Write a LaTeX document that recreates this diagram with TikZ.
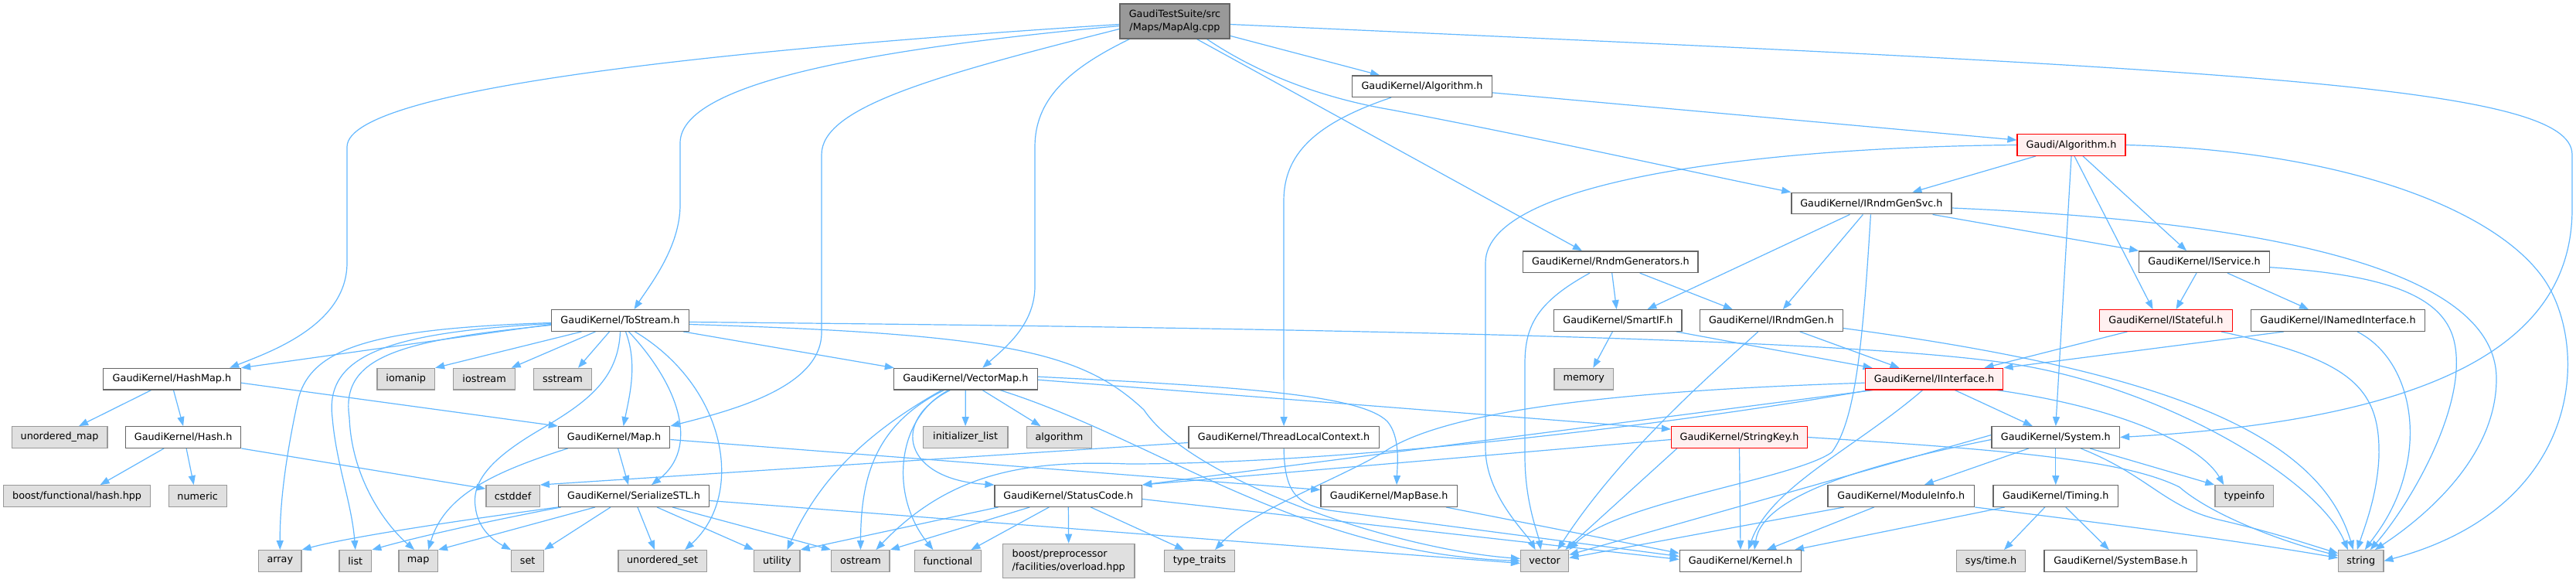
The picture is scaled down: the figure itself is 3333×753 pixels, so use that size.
\documentclass[tikz,border=0pt]{standalone}
\usepackage{fontspec}
\setmainfont{DejaVu Sans}
\usetikzlibrary{arrows.meta}
\pgfdeclarelayer{bg}
\pgfsetlayers{bg,main}
\definecolor{edgec}{HTML}{63B8FF}
\definecolor{nodeb}{HTML}{666666}
\definecolor{leafb}{HTML}{999999}
\definecolor{leaff}{HTML}{E0E0E0}
\definecolor{rootf}{HTML}{999999}
\definecolor{redf}{HTML}{FFF0F0}
\definecolor{redb}{HTML}{FF0000}
\begin{document}
\begin{tikzpicture}[x=1pt,y=-1pt,
  box/.style={draw, rectangle, line width=1.3pt, inner sep=0pt, minimum height=27.6pt, font=\fontsize{12.8}{16.7}\selectfont, text=black},
  gk/.style={box, draw=nodeb, fill=white},
  leaf/.style={box, draw=leafb, fill=leaff},
  redn/.style={box, draw=redb, fill=redf},
  rootn/.style={box, draw=nodeb, fill=rootf, minimum height=45pt, align=center},
  edg/.style={draw=edgec, line width=1.2pt, -{Triangle[length=12pt,width=9pt]}},
]
\useasboundingbox (0,0) rectangle (3333,753);
% ---------- nodes ----------
\node[rootn, minimum width=142pt] (mapalg) at (1520,27.5) {GaudiTestSuite/src\\/Maps/MapAlg.cpp};
\node[gk, minimum width=181pt] (gkalg) at (1840,111.7) {GaudiKernel/Algorithm.h};
\node[redn, minimum width=140pt] (galg) at (2680,187.5) {Gaudi/Algorithm.h};
\node[gk, minimum width=207pt] (rsvc) at (2421.4,263) {GaudiKernel/IRndmGenSvc.h};
\node[gk, minimum width=226.4pt] (rgens) at (2083.9,338.7) {GaudiKernel/RndmGenerators.h};
\node[gk, minimum width=168.5pt] (iserv) at (2852,338.7) {GaudiKernel/IService.h};
\node[gk, minimum width=178pt] (tostr) at (802.5,414.5) {GaudiKernel/ToStream.h};
\node[gk, minimum width=165.4pt] (smart) at (2093.4,414.5) {GaudiKernel/SmartIF.h};
\node[gk, minimum width=185pt] (rgen) at (2291.8,414.5) {GaudiKernel/IRndmGen.h};
\node[redn, minimum width=171.5pt] (istate) at (2802.5,414.5) {GaudiKernel/IStateful.h};
\node[gk, minimum width=225.5pt] (inamed) at (3025,414.5) {GaudiKernel/INamedInterface.h};
\node[gk, minimum width=178pt] (hmap) at (222.5,490.2) {GaudiKernel/HashMap.h};
\node[leaf, minimum width=74.6pt] (iomanip) at (525.2,490.2) {iomanip};
\node[leaf, minimum width=79.6pt] (iostr) at (626.6,490.2) {iostream};
\node[leaf, minimum width=74.6pt] (sstr) at (728,490.2) {sstream};
\node[gk, minimum width=185.7pt] (vmap) at (1249.3,490.2) {GaudiKernel/VectorMap.h};
\node[leaf, minimum width=76.4pt] (memory) at (2049.3,490.2) {memory};
\node[redn, minimum width=178.6pt] (iint) at (2502.5,490.2) {GaudiKernel/IInterface.h};
\node[leaf, minimum width=123.6pt] (umap) at (77.1,565.5) {unordered\_map};
\node[gk, minimum width=149.3pt] (hash) at (237.1,565.5) {GaudiKernel/Hash.h};
\node[gk, minimum width=144.3pt] (gmap) at (794.6,565.5) {GaudiKernel/Map.h};
\node[leaf, minimum width=109.6pt] (ilist) at (1249.1,565.5) {initializer\_list};
\node[leaf, minimum width=84.3pt] (algo) at (1370.4,565.5) {algorithm};
\node[gk, minimum width=246.4pt] (tlc) at (1661.1,565.5) {GaudiKernel/ThreadLocalContext.h};
\node[redn, minimum width=176pt] (skey) at (2250.5,565.5) {GaudiKernel/StringKey.h};
\node[gk, minimum width=165.4pt] (sys) at (2659.8,565.5) {GaudiKernel/System.h};
\node[leaf, minimum width=190pt] (bhash) at (99.6,641.5) {boost/functional/hash.hpp};
\node[leaf, minimum width=75pt] (numeric) at (255.7,641.5) {numeric};
\node[leaf, minimum width=69.3pt] (cstddef) at (663.6,641.5) {cstddef};
\node[gk, minimum width=195pt] (ser) at (820,641.5) {GaudiKernel/SerializeSTL.h};
\node[gk, minimum width=190.4pt] (sc) at (1382.3,641.5) {GaudiKernel/StatusCode.h};
\node[gk, minimum width=176.4pt] (mbase) at (1797.1,641.5) {GaudiKernel/MapBase.h};
\node[gk, minimum width=189.6pt] (minfo) at (2459.8,641.5) {GaudiKernel/ModuleInfo.h};
\node[gk, minimum width=161.8pt] (timing) at (2659.8,641.5) {GaudiKernel/Timing.h};
\node[leaf, minimum width=75.7pt] (typeinfo) at (2903.8,641.5) {typeinfo};
\node[leaf, minimum width=55.4pt] (array) at (362.3,725.5) {array};
\node[leaf, minimum width=41.8pt] (list) at (459.8,725.5) {list};
\node[leaf, minimum width=50.4pt] (smap) at (541.2,725.5) {map};
\node[leaf, minimum width=41.8pt] (set) at (682.7,725.5) {set};
\node[leaf, minimum width=114.3pt] (uset) at (857.1,725.5) {unordered\_set};
\node[leaf, minimum width=59.3pt] (utility) at (1005.4,725.5) {utility};
\node[leaf, minimum width=75.4pt] (ostr) at (1113.4,725.5) {ostream};
\node[leaf, minimum width=86.4pt] (func) at (1226.4,725.5) {functional};
\node[leaf, minimum width=170.4pt, minimum height=44.4pt, align=left] (bpp) at (1382.7,725.5) {boost/preprocessor\\/facilities/overload.hpp};
\node[leaf, minimum width=91.1pt] (ttraits) at (1552,725.5) {type\_traits};
\node[leaf, minimum width=62.1pt] (vector) at (1998.6,725.5) {vector};
\node[gk, minimum width=157.5pt] (kernel) at (2252,725.5) {GaudiKernel/Kernel.h};
\node[leaf, minimum width=89.3pt] (systime) at (2576,725.5) {sys/time.h};
\node[gk, minimum width=197.6pt] (sysbase) at (2743.8,725.5) {GaudiKernel/SystemBase.h};
\node[leaf, minimum width=58.1pt] (string) at (3054.8,725.5) {string};
% ---------- edges ----------
\begin{pgfonlayer}{bg}
\fill[white] (0,0) rectangle (3333,753);
% MapAlg.cpp
\draw[edg] ([yshift=-4pt]mapalg.west) .. controls (1000,60) and (449,110) .. (449,190) -- (449,340) .. controls (449,420) and (350,455) .. ([xshift=-15pt]hmap.north east);
\draw[edg] ([yshift=-6pt]mapalg.west) .. controls (1050,70) and (880,120) .. (880,185) -- (880,265) .. controls (880,320) and (840,370) .. ([xshift=18pt]tostr.north);
\draw[edg] ([yshift=-10pt]mapalg.west) .. controls (1200,100) and (1063,140) .. (1063,200) -- (1063,430) .. controls (1063,500) and (950,530) .. (gmap.north east);
\draw[edg] ([xshift=13pt]mapalg.south west) .. controls (1380,90) and (1339,130) .. (1339,190) -- (1339,370) .. controls (1339,420) and (1300,450) .. ([xshift=22pt]vmap.north);
\draw[edg] ([yshift=-4pt]mapalg.east) .. controls (2900,90) and (3328,110) .. (3328,200) -- (3328,270) .. controls (3328,420) and (3200,540) .. (sys.east);
\draw[edg] (mapalg) -- (gkalg);
\draw[edg] ([xshift=-30pt]mapalg.south east) .. controls (1620,90) and (1700,125) .. (1800,142) .. controls (2000,180) and (2200,225) .. (rsvc.north west);
\draw[edg] ([xshift=-43pt]mapalg.south east) -- ([xshift=-37pt]rgens.north);
% GaudiKernel/Algorithm.h
\draw[edg] (gkalg) -- (galg);
\draw[edg] ([xshift=-40pt]gkalg.south) .. controls (1700,160) and (1661,200) .. (1661,260) -- (tlc.north);
% Gaudi/Algorithm.h
\draw[edg] ([xshift=-46pt]galg.south) -- ([xshift=53pt]rsvc.north);
\draw[edg] (galg.west) .. controls (2300,190) and (1922,230) .. (1922,340) -- (1922,580) .. controls (1922,640) and (1975,690) .. ([xshift=-12pt]vector.north);
\draw[edg] (galg.east) .. controls (3050,195) and (3250,280) .. (3300,375) .. controls (3350,470) and (3330,660) .. (string.east);
\draw[edg] (galg.south) -- (sys.north);
\draw[edg] ([xshift=4pt]galg.south) -- ([xshift=-17pt]istate.north);
\draw[edg] ([xshift=15pt]galg.south) -- ([xshift=-23pt]iserv.north);
% IRndmGenSvc.h
\draw[edg] ([xshift=-28pt]rsvc.south) -- ([xshift=38pt]smart.north);
\draw[edg] ([xshift=-11pt]rsvc.south) -- ([xshift=15pt]rgen.north);
\draw[edg] ([xshift=-1pt]rsvc.south) .. controls (2410,450) and (2400,545) .. (2370,585) .. controls (2320,620) and (2090,650) .. (vector.north east);
\draw[edg] ([yshift=-6pt]rsvc.east) .. controls (2900,285) and (3230,340) .. (3230,490) .. controls (3230,600) and (3120,680) .. ([xshift=18pt]string.north);
\draw[edg] ([xshift=-25pt]rsvc.south east) -- (iserv.north west);
% RndmGenerators.h
\draw[edg] ([xshift=-27pt]rgens.south) .. controls (1990,390) and (1973,420) .. (1973,470) -- (1973,590) .. controls (1973,650) and (1990,690) .. ([xshift=-5pt]vector.north);
\draw[edg] (rgens) -- (smart);
\draw[edg] ([xshift=-76pt]rgens.south east) -- ([xshift=-50pt]rgen.north);
% IService.h
\draw[edg] ([xshift=-10pt]iserv.south) -- ([xshift=13pt]istate.north);
\draw[edg] ([xshift=30pt]iserv.south) -- ([xshift=-38pt]inamed.north);
\draw[edg] ([yshift=-7pt]iserv.east) .. controls (3080,355) and (3160,380) .. (3175,440) .. controls (3195,520) and (3120,650) .. ([xshift=12pt]string.north);
% ToStream.h
\draw[edg] ([yshift=-5pt]tostr.west) -- (hmap.north east);
\draw[edg] ([yshift=-3pt]tostr.west) .. controls (480,425) and (400,450) .. (385,520) .. controls (370,590) and (362,650) .. (array.north);
\draw[edg] ([yshift=-4pt]tostr.west) .. controls (500,430) and (420,460) .. (430,540) .. controls (435,600) and (455,650) .. (list.north);
\draw[edg] ([yshift=-6pt]tostr.west) .. controls (520,440) and (440,460) .. (452,540) .. controls (455,620) and (500,680) .. ([xshift=-5pt]smap.north);
\draw[edg] ([xshift=-50pt]tostr.south) -- (iomanip.north east);
\draw[edg] ([xshift=-32pt]tostr.south) -- ([xshift=35pt]iostr.north);
\draw[edg] ([xshift=-14pt]tostr.south) -- ([xshift=20pt]sstr.north);
\draw[edg] (tostr.south) .. controls (800,490) and (760,520) .. (700,555) .. controls (640,590) and (610,620) .. (615,655) .. controls (618,685) and (640,700) .. (set.north west);
\draw[edg] ([xshift=7pt]tostr.south) .. controls (825,470) and (815,510) .. ([xshift=12pt]gmap.north);
\draw[edg] ([xshift=11pt]tostr.south) .. controls (880,500) and (905,580) .. ([xshift=23pt]ser.north);
\draw[edg] ([xshift=19pt]tostr.south) .. controls (940,500) and (965,640) .. ([xshift=29pt]uset.north);
\draw[edg] ([xshift=-8pt]tostr.south east) -- ([xshift=1pt]vmap.north west);
\draw[edg] ([yshift=-2pt]tostr.east) .. controls (1800,425) and (2400,440) .. (2600,470) .. controls (2800,500) and (3000,620) .. ([xshift=-17pt]string.north);
\draw[edg] ([yshift=-5pt]tostr.east) .. controls (1300,432) and (1400,455) .. (1480,530) .. controls (1540,620) and (1800,710) .. ([yshift=3pt]vector.west);
% HashMap.h
\draw[edg] ([xshift=-27pt]hmap.south) -- ([xshift=25pt]umap.north);
\draw[edg] ([xshift=2pt]hmap.south) -- (hash.north);
\draw[edg] ([yshift=-5pt]hmap.east) -- (gmap.north west);
% Hash.h
\draw[edg] ([xshift=-25pt]hash.south) -- ([xshift=30pt]bhash.north);
\draw[edg] ([xshift=4pt]hash.south) -- ([xshift=-5pt]numeric.north);
\draw[edg] (hash.south east) -- ([yshift=-5pt]cstddef.north west);
% Map.h
\draw[edg] ([xshift=-60pt]gmap.south) .. controls (640,610) and (575,640) .. ([xshift=13pt]smap.north);
\draw[edg] ([xshift=5pt]gmap.south) -- ([xshift=-7pt]ser.north);
\draw[edg] ([yshift=-3pt]gmap.east) -- ([yshift=8pt]mbase.west);
% VectorMap.h
\draw[edg] (vmap.south) -- (ilist.north);
\draw[edg] ([xshift=22pt]vmap.south) -- ([xshift=-24pt]algo.north);
\draw[edg] ([xshift=-22pt]vmap.south) .. controls (1160,540) and (1150,640) .. ([xshift=-19pt]func.north);
\draw[edg] ([xshift=-28pt]vmap.south) .. controls (1130,550) and (1114,620) .. (ostr.north);
\draw[edg] ([xshift=-31pt]vmap.south) .. controls (1120,560) and (1060,620) .. ([xshift=13pt]utility.north);
\draw[edg] ([xshift=-20pt]vmap.south) .. controls (1150,545) and (1170,620) .. (sc.north west);
\draw[edg] ([xshift=45pt]vmap.south) .. controls (1500,570) and (1680,715) .. (vector.west);
\draw[edg] ([yshift=3pt]vmap.east) .. controls (1600,500) and (1760,510) .. (1795,545) .. controls (1812,565) and (1808,600) .. ([xshift=10pt]mbase.north);
\draw[edg] ([yshift=-1pt]vmap.east) -- ([yshift=-4pt]skey.north west);
% ThreadLocalContext.h
\draw[edg] ([yshift=-7pt]tlc.west) -- (cstddef.north east);
\draw[edg] (tlc.south) .. controls (1662,640) and (1680,652) .. (1720,660) -- ([yshift=6pt]kernel.west);
% StringKey.h
\draw[edg] (skey.south) -- (kernel.north);
\draw[edg] ([yshift=-3pt]skey.west) -- (sc.north east);
\draw[edg] (skey.east) .. controls (2600,582) and (2750,595) .. (2820,630) .. controls (2860,665) and (2950,700) .. ([yshift=7pt]string.west);
\draw[edg] ([xshift=8pt]skey.south west) -- ([xshift=-5pt]vector.north east);
% IInterface.h
\draw[edg] ([xshift=-15pt]iint.south) .. controls (2400,580) and (2290,630) .. ([xshift=10pt]kernel.north);
\draw[edg] ([yshift=-5pt]iint.west) .. controls (2100,505) and (1870,530) .. (1790,585) .. controls (1720,625) and (1620,660) .. ([xshift=20pt]ttraits.north);
\draw[edg] ([xshift=6pt]iint.south west) .. controls (2100,560) and (1700,600) .. (1460,600) .. controls (1330,595) and (1230,610) .. ([xshift=20pt]ostr.north);
\draw[edg] ([xshift=10pt]iint.south west) -- (sc.north east);
\draw[edg] ([xshift=27pt]iint.south) -- ([xshift=-30pt]sys.north);
\draw[edg] ([xshift=-8pt]iint.south east) .. controls (2760,530) and (2850,580) .. ([xshift=12pt]typeinfo.north west);
% System.h
\draw[edg] ([yshift=-3pt]sys.west) .. controls (2420,600) and (2280,640) .. ([xshift=18pt]kernel.north);
\draw[edg] ([yshift=3pt]sys.west) -- ([yshift=8pt]vector.east);
\draw[edg] ([xshift=-35pt]sys.south) -- ([xshift=30pt]minfo.north);
\draw[edg] (sys.south) -- (timing.north);
\draw[edg] ([xshift=-51pt]sys.south east) .. controls (2780,615) and (2800,655) .. (2870,672) .. controls (2940,688) and (2990,705) .. ([yshift=10pt]string.west);
\draw[edg] ([xshift=-39pt]sys.south east) -- (typeinfo.north west);
% ModuleInfo.h
\draw[edg] ([xshift=-35pt]minfo.south) -- ([xshift=34pt]kernel.north);
\draw[edg] ([xshift=-74pt]minfo.south) -- ([yshift=4pt]vector.east);
\draw[edg] (minfo.south east) .. controls (2750,680) and (2900,700) .. ([yshift=4pt]string.west);
% Timing.h
\draw[edg] ([xshift=-66pt]timing.south) -- ([xshift=70pt]kernel.north);
\draw[edg] ([xshift=-14pt]timing.south) -- ([xshift=17pt]systime.north);
\draw[edg] ([xshift=13pt]timing.south) -- ([xshift=-15pt]sysbase.north);
% SerializeSTL.h
\draw[edg] (ser.south west) .. controls (580,675) and (450,695) .. (array.north east);
\draw[edg] ([xshift=4pt]ser.south west) .. controls (600,680) and (520,700) .. (list.north east);
\draw[edg] ([xshift=-50pt]ser.south) -- (smap.north east);
\draw[edg] ([xshift=-30pt]ser.south) -- (set.north east);
\draw[edg] ([xshift=5pt]ser.south) -- ([xshift=-10pt]uset.north);
\draw[edg] ([xshift=30pt]ser.south) -- (utility.north west);
\draw[edg] ([xshift=50pt]ser.south) -- (ostr.north west);
\draw[edg] ([yshift=-6pt]ser.east) -- ([yshift=-3pt]vector.west);
% StatusCode.h
\draw[edg] ([xshift=5pt]sc.south west) -- (utility.north east);
\draw[edg] ([xshift=-50pt]sc.south) -- (ostr.north east);
\draw[edg] ([xshift=-25pt]sc.south) -- ([xshift=30pt]func.north);
\draw[edg] (sc.south) -- (bpp.north);
\draw[edg] ([xshift=29pt]sc.south) -- ([xshift=-20pt]ttraits.north);
\draw[edg] ([yshift=-4pt]sc.east) -- ([yshift=2pt]kernel.west);
% MapBase.h
\draw[edg] ([xshift=-15pt]mbase.south east) -- ([yshift=10pt]kernel.west);
% IRndmGen.h
\draw[edg] ([xshift=37pt]rgen.south) -- ([xshift=-45pt]iint.north);
\draw[edg] ([xshift=-17pt]rgen.south) .. controls (2230,470) and (2100,580) .. ([xshift=-15pt]vector.north east);
\draw[edg] ([yshift=-10pt]rgen.east) .. controls (2800,480) and (3000,560) .. ([xshift=-10pt]string.north);
% SmartIF.h
\draw[edg] ([xshift=-7pt]smart.south) -- ([xshift=12pt]memory.north);
\draw[edg] ([xshift=-8pt]smart.south east) -- ([xshift=-80pt]iint.north);
% IStateful.h
\draw[edg] ([xshift=-50pt]istate.south) -- ([xshift=65pt]iint.north);
\draw[edg] ([xshift=-15pt]istate.south east) .. controls (3040,465) and (3080,500) .. (3078,590) .. controls (3076,640) and (3060,680) .. ([xshift=-5pt]string.north);
% INamedInterface.h
\draw[edg] ([xshift=-70pt]inamed.south) -- (iint.north east);
\draw[edg] ([xshift=25pt]inamed.south) .. controls (3110,460) and (3130,540) .. (3112,610) .. controls (3100,660) and (3075,690) .. ([xshift=5pt]string.north);
\end{pgfonlayer}
\end{tikzpicture}
\end{document}
